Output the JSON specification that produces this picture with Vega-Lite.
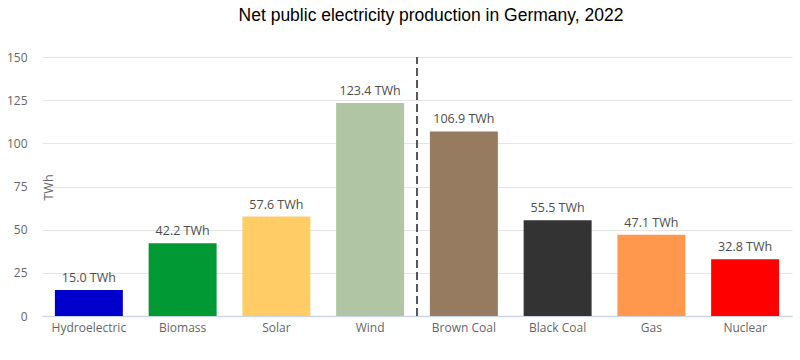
{
  "$schema": "https://vega.github.io/schema/vega-lite/v6.json",
  "width": 750,
  "height": 259,
  "autosize": {"type": "none"},
  "padding": {"left": 42, "top": 57, "right": 8, "bottom": 44},
  "background": "white",
  "title": {
    "text": "Net public electricity production in Germany, 2022",
    "font": "Liberation Sans",
    "fontSize": 17.5,
    "fontWeight": "normal",
    "color": "#000000",
    "anchor": "middle",
    "dx": 14,
    "offset": 27
  },
  "config": {
    "view": {"stroke": null},
    "font": "Open Sans"
  },
  "datasets": {
    "prod": [
      {"source": "Hydroelectric", "twh": 15.0},
      {"source": "Biomass", "twh": 42.2},
      {"source": "Solar", "twh": 57.6},
      {"source": "Wind", "twh": 123.4},
      {"source": "Brown Coal", "twh": 106.9},
      {"source": "Black Coal", "twh": 55.5},
      {"source": "Gas", "twh": 47.1},
      {"source": "Nuclear", "twh": 32.8}
    ],
    "divider": [{"source": "Wind"}]
  },
  "layer": [
    {
      "data": {"name": "prod"},
      "mark": {"type": "bar"},
      "encoding": {
        "x": {
          "field": "source",
          "type": "nominal",
          "sort": null,
          "scale": {
            "domain": ["Hydroelectric", "Biomass", "Solar", "Wind", "Brown Coal", "Black Coal", "Gas", "Nuclear"],
            "paddingInner": 0.275,
            "paddingOuter": 0.1375
          },
          "axis": {
            "title": null,
            "labelAngle": 0,
            "ticks": false,
            "labelPadding": 6,
            "labelFontSize": 12,
            "labelColor": "#666666",
            "domainColor": "#ccd6eb",
            "domainWidth": 1.5,
            "grid": false
          }
        },
        "y": {
          "field": "twh",
          "type": "quantitative",
          "scale": {"domain": [0, 150], "nice": false},
          "axis": {
            "values": [0, 25, 50, 75, 100, 125, 150],
            "title": "TWh",
            "titleFontSize": 12.5,
            "titleFontWeight": "normal",
            "titleColor": "#666666",
            "titleAngle": -90,
            "titleX": 6,
            "titleY": 130,
            "titleAlign": "center",
            "titleBaseline": "middle",
            "domain": false,
            "ticks": false,
            "labelPadding": 15,
            "labelFontSize": 12,
            "labelColor": "#666666",
            "gridColor": "#e6e6e6",
            "gridWidth": 1
          }
        },
        "color": {
          "field": "source",
          "type": "nominal",
          "legend": null,
          "scale": {
            "domain": ["Hydroelectric", "Biomass", "Solar", "Wind", "Brown Coal", "Black Coal", "Gas", "Nuclear"],
            "range": ["#0000cc", "#009933", "#ffcc66", "#b0c5a4", "#967b61", "#333333", "#ff974d", "#ff0000"]
          }
        }
      }
    },
    {
      "data": {"name": "prod"},
      "transform": [{"calculate": "format(datum.twh, '.1f') + ' TWh'", "as": "label"}],
      "mark": {"type": "text", "baseline": "bottom", "dy": -5, "fontSize": 12.5, "color": "#4d4d4d", "fontWeight": "normal"},
      "encoding": {
        "x": {"field": "source", "type": "nominal", "sort": null},
        "y": {"field": "twh", "type": "quantitative"},
        "text": {"field": "label"}
      }
    },
    {
      "data": {"name": "divider"},
      "mark": {"type": "rule", "strokeDash": [8, 4], "strokeWidth": 2, "color": "#555555"},
      "encoding": {
        "x": {"field": "source", "type": "nominal", "bandPosition": 1.19},
        "y": {"datum": 0},
        "y2": {"datum": 150}
      }
    }
  ]
}
